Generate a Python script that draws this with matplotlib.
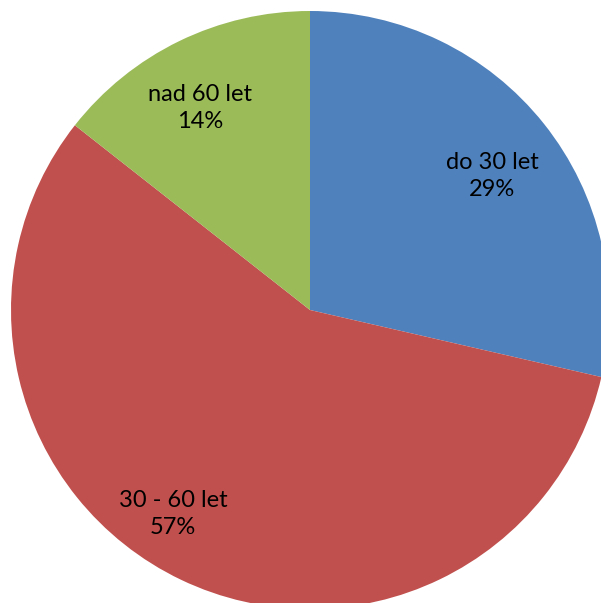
import matplotlib.pyplot as plt

categories = ["do 30 let", "30 - 60 let", "nad 60 let"]
values = [28.6, 57.0, 14.4]
colors = ["#4F81BD", "#C0504D", "#9BBB59"]

# label anchor points (pixel offsets from the pie centre, y up)
label_pos = [(182, 134), (-137, -204), (-110, 202)]

plt.rcParams['font.family'] = ['Lato', 'DejaVu Sans']

fig = plt.figure(figsize=(6.01, 6.03), dpi=100)
ax = fig.add_axes([0, 0, 1, 1])

cx, cy, r = 310, 603 - 310, 299
wedges, texts = ax.pie(values, colors=colors, startangle=90, counterclock=False,
                       center=(cx, cy), radius=r,
                       wedgeprops=dict(linewidth=0))

for cat, v, (dx, dy) in zip(categories, values, label_pos):
    ax.text(cx + dx, cy + dy, f"{cat}\n{v:.0f}%", ha="center", va="center",
            fontsize=17, color="black", linespacing=1.33)

ax.set_xlim(0, 601)
ax.set_ylim(0, 603)
ax.set_aspect("equal")
ax.axis("off")

fig.savefig("out.png", dpi=100)
